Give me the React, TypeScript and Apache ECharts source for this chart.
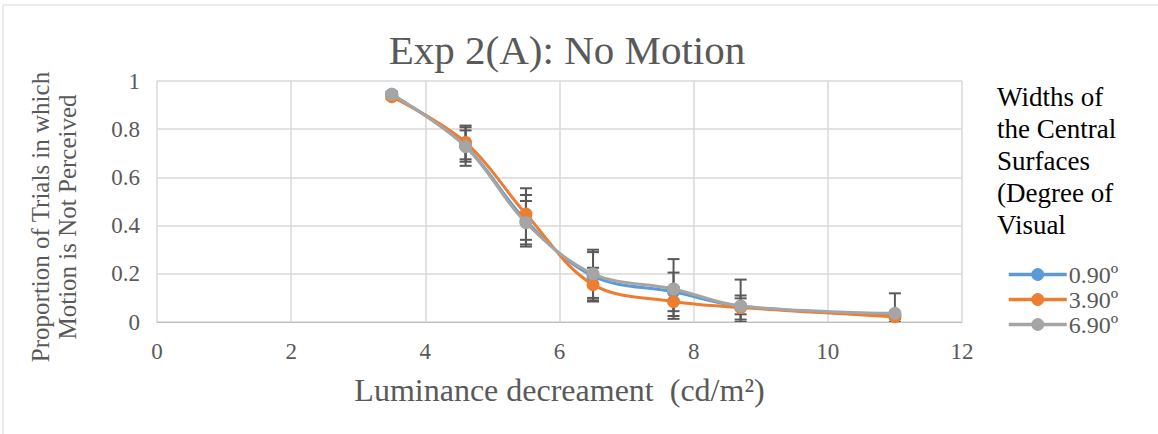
import React, { useEffect, useRef } from "react";
import * as echarts from "echarts";

const xValues = [3.5, 4.6, 5.5, 6.5, 7.7, 8.7, 11];
const seriesNames = ["0.90º", "3.90º", "6.90º"];
const w090 = [0.945, 0.73, 0.42, 0.19, 0.125, 0.065, 0.03];
const w390 = [0.935, 0.745, 0.448, 0.155, 0.085, 0.06, 0.022];
const w690 = [0.945, 0.728, 0.412, 0.2, 0.137, 0.066, 0.036];
const err090 = [0.01, 0.065, 0.107, 0.1, 0.08, 0.033, 0.01];
const err390 = [0.01, 0.07, 0.107, 0.07, 0.06, 0.05, 0.01];
const err690 = [0.01, 0.08, 0.09, 0.1, 0.124, 0.11, 0.083];
const colors = ["#5B9BD5", "#ED7D31", "#A5A5A5"];

const FONT = "'Liberation Serif', 'Times New Roman', serif";
const TXT = "#595959";

export default function App() {
  const ref = useRef<HTMLDivElement>(null);
  useEffect(() => {
    if (!ref.current) return;
    const chart = echarts.init(ref.current, undefined, { renderer: "svg" });
    const values = [w090, w390, w690];
    const errs = [err090, err390, err690];

    const lineSeries = values.map((vals, i) => ({
      name: seriesNames[i],
      type: "line",
      data: xValues.map((x, j) => [x, vals[j]]),
      smooth: 0.35,
      symbol: "circle",
      symbolSize: 13,
      showSymbol: true,
      z: 3 + i,
      lineStyle: { color: colors[i], width: 3 },
      itemStyle: { color: colors[i] },
    }));

    const errSeries = values.map((vals, i) => ({
      type: "custom",
      name: "err" + i,
      clip: true,
      z: 1,
      silent: true,
      data: xValues.map((x, j) => [
        x,
        Math.max(0, vals[j] - errs[i][j]),
        Math.min(1, vals[j] + errs[i][j]),
      ]),
      renderItem: (params: any, api: any) => {
        const x = api.value(0);
        const lo = api.coord([x, api.value(1)]);
        const hi = api.coord([x, api.value(2)]);
        const cw = 6;
        const style = { stroke: "#595959", lineWidth: 2 };
        return {
          type: "group",
          children: [
            { type: "line", shape: { x1: lo[0], y1: lo[1], x2: hi[0], y2: hi[1] }, style },
            { type: "line", shape: { x1: hi[0] - cw, y1: hi[1], x2: hi[0] + cw, y2: hi[1] }, style },
            { type: "line", shape: { x1: lo[0] - cw, y1: lo[1], x2: lo[0] + cw, y2: lo[1] }, style },
          ],
        };
      },
    }));

    chart.setOption({
      animation: false,
      backgroundColor: "#ffffff",
      title: [
        {
          text: "Exp 2(A): No Motion",
          left: 562,
          top: 24,
          textAlign: "center",
          textStyle: { fontFamily: FONT, fontSize: 41, fontWeight: "normal", color: TXT },
        },
        {
          text: "Widths of\nthe Central\nSurfaces\n(Degree of\nVisual",
          left: 992,
          top: 76,
          textStyle: { fontFamily: FONT, fontSize: 27, fontWeight: "normal", color: "#000000", lineHeight: 32 },
        },
      ],
      legend: {
        data: seriesNames,
        orient: "vertical",
        left: 1002,
        top: 257,
        itemWidth: 58,
        itemHeight: 16,
        itemGap: 0,
        lineStyle: { width: 3.5 },
        textStyle: { fontFamily: FONT, fontSize: 24, color: TXT, lineHeight: 25, padding: [0, 0, 0, -3] },
      },
      grid: { left: 157, right: 196, top: 81, bottom: 112, containLabel: false },
      xAxis: {
        type: "value",
        min: 0,
        max: 12,
        interval: 2,
        name: "Luminance decreament  (cd/m²)",
        nameLocation: "middle",
        nameGap: 52,
        nameTextStyle: { fontFamily: FONT, fontSize: 32, color: TXT },
        axisLine: { show: true, lineStyle: { color: "#BFBFBF", width: 1 } },
        axisTick: { show: false },
        axisLabel: { fontFamily: FONT, fontSize: 23, color: TXT, margin: 18 },
        splitLine: { show: true, lineStyle: { color: "#D9D9D9", width: 1.5 } },
      },
      yAxis: {
        type: "value",
        min: 0,
        max: 1,
        interval: 0.2,
        axisLine: { show: false },
        axisTick: { show: false },
        axisLabel: { fontFamily: FONT, fontSize: 23, color: TXT, margin: 17 },
        splitLine: { show: true, lineStyle: { color: "#D9D9D9", width: 1.5 } },
      },
      graphic: [
        {
          type: "rect",
          z: -10,
          silent: true,
          shape: { x: 3, y: 5, width: 1300, height: 600 },
          style: { fill: "none", stroke: "#D9D9D9", lineWidth: 1 },
        },
        {
          type: "text",
          x: 54,
          y: 217,
          rotation: Math.PI / 2,
          style: {
            text: "Proportion of Trials in which\nMotion is Not Perceived",
            font: `25px ${FONT}`,
            fill: TXT,
            align: "center",
            verticalAlign: "middle",
            lineHeight: 27,
          },
        },
      ],
      series: [...errSeries, ...lineSeries],
    });
    return () => chart.dispose();
  }, []);

  return (
    <div
      ref={ref}
      style={{ position: "fixed", left: 0, top: 0, width: 1158, height: 434 }}
    />
  );
}
